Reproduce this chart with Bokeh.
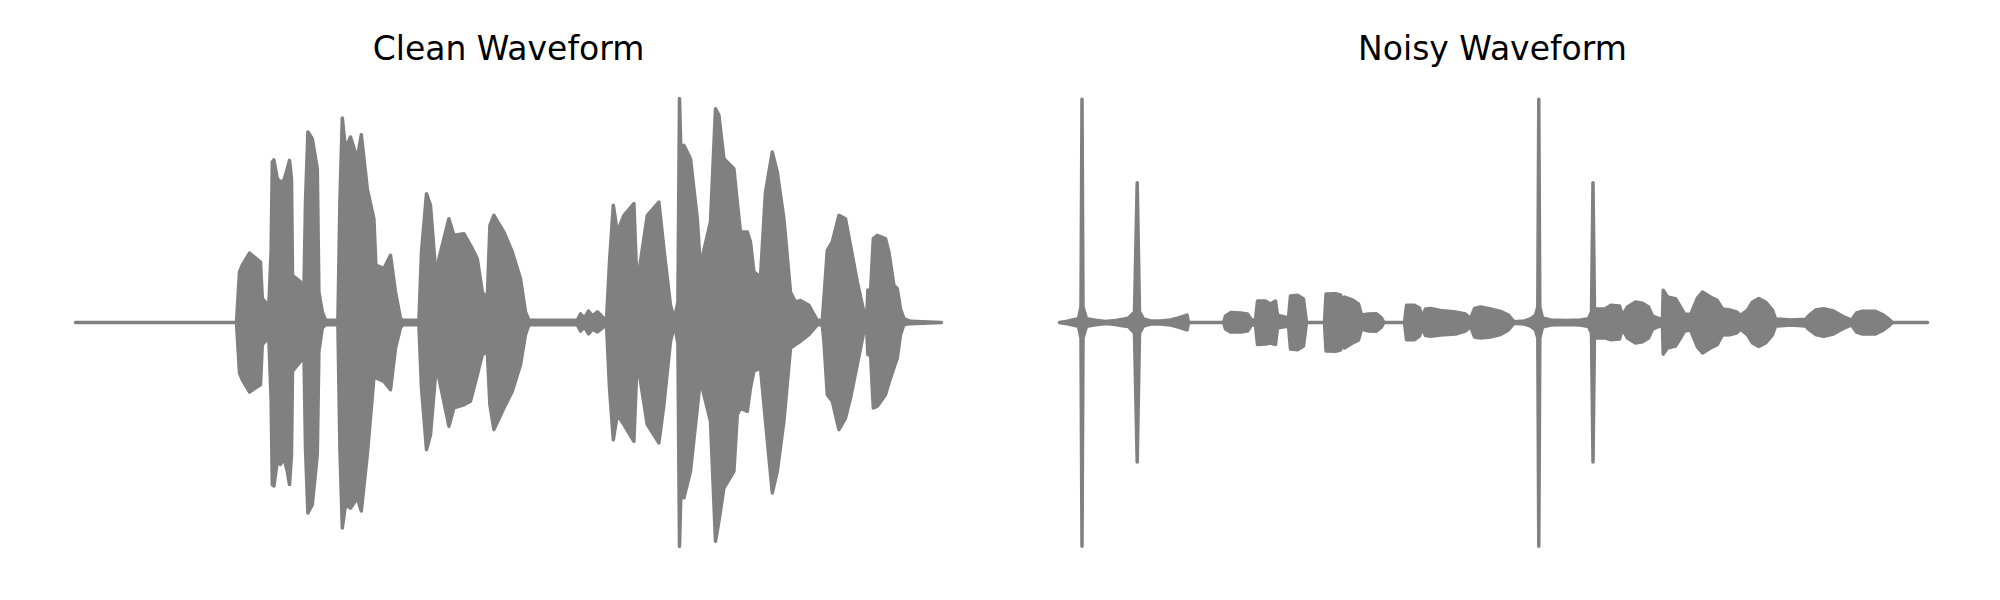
import numpy as np
from bokeh.plotting import figure
from bokeh.layouts import row
from bokeh.models import Range1d
from bokeh.embed import file_html
from bokeh.resources import INLINE

# ---------------- data (time in s, amplitude in % of full scale) ----------------
titles = ["Clean Waveform", "Noisy Waveform"]

clean_t = [0, 0.805, 0.82, 0.834, 0.87, 0.925, 0.934, 0.95, 0.959, 0.967, 0.978, 0.984, 0.992,
           1.009, 1.025, 1.042, 1.059, 1.07, 1.08, 1.085, 1.125, 1.142, 1.15, 1.162, 1.184,
           1.209, 1.217, 1.234, 1.25,
           1.312, 1.322, 1.334, 1.35, 1.375, 1.409, 1.429, 1.459, 1.492, 1.502, 1.542, 1.575,
           1.6, 1.625, 1.635, 1.717, 1.73, 1.755, 1.775, 1.805, 1.817, 1.867, 1.892, 1.942,
           1.975, 2.009, 2.034, 2.059, 2.072, 2.092, 2.142, 2.184, 2.225, 2.25, 2.267, 2.509,
           2.525, 2.545, 2.565, 2.585, 2.61, 2.635, 2.655, 2.67, 2.689, 2.709, 2.742, 2.792,
           2.809, 2.817, 2.859, 2.917, 2.942, 2.975, 2.995, 3.012, 3.02, 3.027, 3.042, 3.075,
           3.109, 3.125, 3.14, 3.175, 3.2, 3.217, 3.242, 3.292, 3.309, 3.325, 3.359, 3.375,
           3.392, 3.425, 3.45, 3.484, 3.509, 3.542, 3.575, 3.6, 3.625, 3.667, 3.709, 3.734,
           3.742, 3.759, 3.784, 3.817, 3.85, 3.875, 3.909, 3.942, 3.955, 3.962, 3.97, 3.989,
           4.009, 4.05, 4.067, 4.092, 4.109, 4.125, 4.142, 4.175, 4.33]
clean_upper = [0, 0, 22.4, 25.4, 30.8, 26.8, 10.6, 9.1, 6.1, 8.3, 31.3, 71.2, 72.1,
               63.8, 62.3, 63.1, 68.2, 71.9, 63.8, 20.9, 18.0, 13.5, 53.4, 84.5, 81.5,
               68.2, 13.5, 4.7, 1.0,
               1.0, 53.4, 90.7, 77.1, 82.3, 72.6, 83.3, 59.3, 46.0, 25.4, 23.9, 29.8,
               13.5, 1.7, 1.0, 1.0, 31.3, 57.1, 52.0, 18.0, 28.3, 46.0, 38.7, 39.4,
               34.2, 28.3, 13.5, 10.6, 43.1, 47.5, 40.1, 31.3, 19.4, 4.7, 1.0, 1.0,
               3.8, 2.0, 5.1, 2.9, 4.7, 2.4, 1.0, 26.8, 52.0, 40.1, 47.5, 52.7,
               13.5, 22.4, 47.5, 53.4, 32.7, 7.6, 1.7, 9.1, 99.3, 75.6, 78.6, 72.6,
               46.0, 23.9, 31.3, 44.6, 94.8, 91.9, 72.6, 68.2, 53.4, 40.1, 40.1, 35.7,
               22.4, 20.2, 57.9, 75.6, 66.7, 46.0, 13.5, 9.1, 9.8, 7.6, 1.0, 1.0,
               10.6, 32.0, 35.7, 47.5, 46.0, 34.2, 18.0, 4.7, 1.0, 14.4, 4.7, 37.2,
               38.7, 37.2, 31.3, 16.5, 15.0, 6.1, 1.7, 0.5, 0]
clean_lower = [0, 0, -22.4, -25.4, -30.8, -27.6, -9.8, -8.2, -5.4, -7.8, -33.5, -71.9, -72.5,
               -61.6, -63.0, -60.1, -66.0, -71.9, -58.6, -21.6, -17.2, -12.8, -55.7, -84.5, -80.8,
               -58.6, -12.8, -2.4, -1.0,
               -1.0, -55.7, -91.1, -80.8, -82.3, -77.8, -83.6, -58.6, -24.6, -24.6, -26.1, -29.8,
               -11.3, -2.4, -1.0, -1.0, -29.0, -56.4, -49.8, -18.0, -24.6, -46.0, -37.9, -36.5,
               -34.9, -23.2, -14.3, -12.8, -36.5, -47.5, -37.9, -30.5, -18.7, -5.4, -1.0, -1.0,
               -3.8, -2.0, -5.1, -2.9, -4.2, -2.4, -1.0, -29.0, -52.0, -40.9, -45.3, -52.7,
               -14.3, -21.6, -45.3, -53.4, -36.5, -8.3, -1.0, -9.1, -99.3, -75.6, -77.8, -66.0,
               -37.9, -24.6, -31.3, -43.8, -97.0, -88.2, -73.4, -66.0, -40.9, -37.9, -39.4, -29.0,
               -21.6, -20.2, -43.8, -75.6, -66.0, -43.8, -11.3, -9.8, -8.3, -5.4, -1.0, -1.0,
               -8.3, -32.0, -34.9, -47.5, -42.4, -33.5, -18.7, -3.9, -1.0, -14.3, -5.1, -37.9,
               -37.2, -32.0, -26.8, -20.2, -15.7, -5.4, -1.0, -0.5, 0]

noisy_t = [0, 0.03, 0.065, 0.095, 0.1075, 0.1125, 0.1175, 0.135, 0.18, 0.23, 0.28, 0.315,
           0.345, 0.375, 0.3885, 0.4, 0.42, 0.455, 0.505, 0.555, 0.595, 0.625, 0.6375, 0.645,
           0.82, 0.83, 0.855, 0.905, 0.94, 0.96, 0.98, 0.99, 1.03, 1.055, 1.08, 1.09, 1.145,
           1.155, 1.19, 1.22, 1.235, 1.325, 1.3325, 1.38, 1.405, 1.415, 1.425, 1.465, 1.495,
           1.51, 1.545, 1.585, 1.61, 1.6225, 1.725, 1.735, 1.775, 1.8, 1.8125, 1.83, 1.855,
           1.905, 1.98, 2.03, 2.055, 2.075, 2.105, 2.155, 2.205, 2.245, 2.265, 2.275, 2.325,
           2.355, 2.38, 2.3915, 2.3965, 2.4015, 2.415, 2.455, 2.53, 2.605, 2.645, 2.66, 2.6675,
           2.675, 2.685, 2.73, 2.755, 2.8, 2.815, 2.84, 2.88, 2.915, 2.945, 2.965, 3.0, 3.015,
           3.0185, 3.04, 3.08, 3.105, 3.125, 3.155, 3.19, 3.215, 3.255, 3.2885, 3.315, 3.355,
           3.385, 3.405, 3.44, 3.465, 3.4965, 3.53, 3.565, 3.58, 3.655, 3.73, 3.75, 3.78, 3.82,
           3.87, 3.905, 3.935, 3.96, 3.985, 4.015, 4.08, 4.12, 4.145, 4.165, 4.34]
noisy_upper = [0, 0.4, 1.1, 1.7, 6.9, 99.0, 6.9, 1.7, 1.0, 0.5, 0.9, 1.4,
               2.0, 4.7, 62.0, 4.7, 1.6, 0.7, 0.7, 1.1, 2.0, 2.9, 3.3, 0,
               0, 2.9, 4.4, 4.2, 3.8, 1.1, 1.1, 9.5, 9.5, 8.2, 9.5, 3.2, 2.0,
               11.8, 12.1, 10.4, 0, 0, 12.6, 12.8, 12.2, 9.1, 11.3, 10.0, 8.2,
               3.3, 3.8, 3.9, 2.0, 0, 0, 7.6, 7.6, 6.4, 2.4, 6.0, 6.2,
               5.3, 4.7, 3.8, 1.7, 6.2, 6.9, 6.0, 4.9, 3.3, 1.1, 0.3, 0.7,
               1.6, 3.3, 6.9, 99.0, 6.9, 2.0, 1.1, 0.9, 1.1, 1.7, 4.7, 62.0,
               4.7, 6.0, 6.1, 7.6, 7.3, 3.2, 6.9, 9.1, 8.6, 6.9, 2.9, 1.6, 2.0,
               14.3, 11.3, 10.6, 6.9, 3.8, 3.5, 10.9, 13.5, 11.3, 9.8, 6.0, 5.5,
               4.7, 3.2, 5.5, 9.1, 10.6, 9.1, 5.5, 1.6, 1.1, 1.4, 3.3, 5.5, 6.1,
               5.1, 3.3, 2.0, 1.1, 4.2, 5.0, 5.0, 3.3, 1.6, 0, 0]
noisy_lower = [0, -0.4, -1.1, -1.7, -6.9, -99.2, -6.9, -1.7, -1.0, -0.5, -0.9, -1.4,
               -1.8, -4.7, -61.9, -4.7, -1.6, -0.7, -0.7, -1.1, -2.0, -2.9, -3.3, 0,
               0, -2.9, -4.2, -4.2, -3.8, -1.1, -1.1, -9.8, -9.5, -9.1, -9.8, -2.4, -1.6,
               -11.8, -12.1, -10.4, 0, 0, -12.6, -12.8, -12.2, -9.1, -11.3, -9.1, -7.8,
               -2.9, -3.8, -3.9, -2.0, 0, 0, -7.6, -7.6, -6.0, -2.4, -5.8, -6.1,
               -5.5, -5.1, -3.8, -1.8, -6.4, -6.9, -6.4, -5.3, -3.3, -1.1, -0.3, -0.7,
               -1.6, -3.3, -6.9, -99.2, -6.9, -2.0, -1.1, -0.9, -1.1, -1.8, -4.7, -61.9,
               -4.7, -6.9, -6.9, -7.6, -7.3, -2.9, -6.9, -9.1, -8.6, -6.9, -2.9, -1.6, -2.0,
               -14.0, -11.3, -10.4, -6.9, -3.8, -3.3, -10.9, -13.5, -11.3, -9.8, -5.5, -5.4,
               -4.7, -2.9, -5.5, -9.1, -10.6, -9.1, -5.5, -1.6, -1.1, -1.6, -3.3, -5.3, -6.1,
               -5.1, -3.3, -2.0, -1.1, -4.2, -5.1, -5.1, -3.3, -1.6, 0, 0]

WAVE_COLOR = "#808080"


def make_panel(title, t, upper, lower, left_border, right_border):
    p = figure(width=1000, height=600, output_backend="svg", toolbar_location=None,
               x_axis_location=None, y_axis_location=None,
               x_range=Range1d(-0.225, 4.555), y_range=Range1d(-110, 110),
               min_border_left=left_border, min_border_right=right_border,
               min_border_top=74, min_border_bottom=30,
               title=title)
    p.grid.visible = False
    p.outline_line_color = None
    p.background_fill_color = "white"
    p.border_fill_color = "white"
    p.title.text_font = "DejaVu Sans"
    p.title.text_font_size = "33px"
    p.title.text_font_style = "normal"
    p.title.text_color = "black"
    p.title.align = "center"
    p.title.standoff = 13
    t = np.asarray(t, dtype=float)
    xs = np.concatenate([t, t[::-1]])
    ys = np.concatenate([np.asarray(upper, dtype=float), np.asarray(lower, dtype=float)[::-1]])
    p.patch(xs, ys, fill_color=WAVE_COLOR, line_color=WAVE_COLOR, line_width=3.5,
            line_join="round", line_cap="round")
    return p


p1 = make_panel(titles[0], clean_t, clean_upper, clean_lower, 30, 14)
p2 = make_panel(titles[1], noisy_t, noisy_upper, noisy_lower, 14, 30)

layout = row(p1, p2)
open("out.html", "w").write(file_html(layout, INLINE))
